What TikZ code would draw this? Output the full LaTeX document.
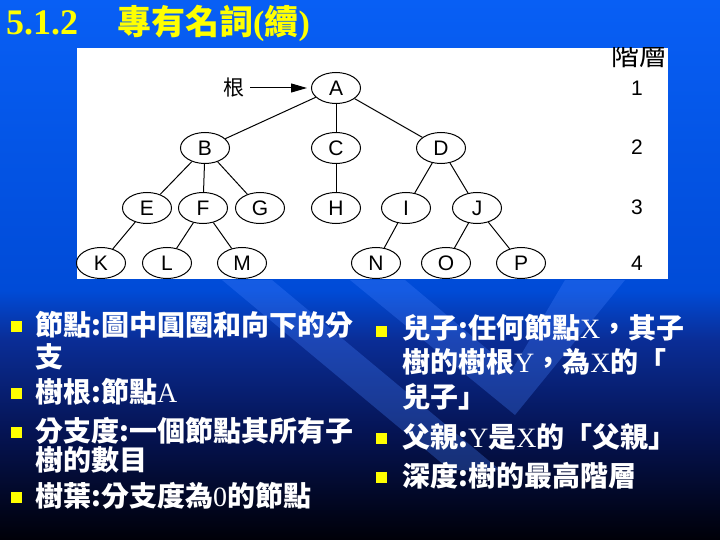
\documentclass[tikz,border=0pt]{standalone}
\usepackage{fontspec}
\setmainfont{Liberation Serif}
\newfontfamily\cjk{Noto Sans CJK TC}
\newfontfamily\arial{Liberation Sans}
\usetikzlibrary{shapes.geometric,arrows.meta}

\definecolor{bgtop}{RGB}{8,95,245}
\definecolor{bgmid}{RGB}{0,75,215}
\definecolor{bgnavy}{RGB}{10,45,150}
\definecolor{bgdeep}{RGB}{5,20,85}
\definecolor{bgbot}{RGB}{0,0,8}
\definecolor{stripeblue}{RGB}{70,130,255}
\definecolor{slideyellow}{RGB}{255,255,0}

\pgfdeclareverticalshading{slidebg}{100bp}{color(0bp)=(bgbot); color(25bp)=(bgbot); color(35.2bp)=(bgdeep); color(43.5bp)=(bgnavy); color(48.1bp)=(bgmid); color(75bp)=(bgtop); color(100bp)=(bgtop)}

\newcommand{\lat}[1]{{\rmfamily\mdseries #1}}

\tikzset{
    treenode/.style={ellipse, draw, line width=1pt, minimum width=49pt, minimum height=31pt, inner sep=0pt, font=\arial\fontsize{21}{21}\selectfont},
    edge/.style={line width=1pt},
    levelnum/.style={font=\arial\fontsize{21}{21}\selectfont},
    bulletbox/.style={fill=slideyellow, minimum size=11pt, inner sep=0pt},
    itemline/.style={anchor=base west, text=white, inner sep=0pt, font=\cjk\bfseries\fontsize{28}{31}\selectfont},
    stripe/.style={fill=stripeblue, opacity=0.3},
}

\begin{document}
\begin{tikzpicture}[x=1pt, y=-1pt]
                \shade[shading=slidebg] (0, 0) rectangle (720, 540);
                \useasboundingbox (0, 0) rectangle (720, 540);

                \fill[stripe] (222, 280) -- (272, 280) -- (500, 470) -- (450, 470) -- cycle;
                \fill[stripe] (350, 280) -- (405, 280) -- (512, 370) -- (565, 280) -- (625, 280) -- (515, 415) -- cycle;

                \node[anchor=base west, inner sep=0pt, text=slideyellow, font=\rmfamily\bfseries\fontsize{36}{36}\selectfont] (secnum) at (6, 35) {5.1.2};
                \node[anchor=base west, inner sep=0pt, text=slideyellow, font=\cjk\bfseries\fontsize{34}{34}\selectfont] (title) at (117, 35) {專有名詞{\rmfamily(}續{\rmfamily)}};

                \fill[white] (77, 48) rectangle (668, 279);
                \begin{scope}
                    \clip (77, 48) rectangle (668, 279);
                    \node[font=\cjk\fontsize{28}{28}\selectfont] (leveltitle) at (639, 55) {階層};
                \end{scope}

                \foreach \n/\y in {1/88, 2/147, 3/207, 4/263} {
                    \node[levelnum] (level\n) at (637, \y) {\n};
                }

                \foreach \name/\x/\y in {A/336/88, B/205/148, C/336/148, D/441/148,
                        E/147/208, F/203/208, G/260/208, H/336/208, I/406/208, J/477/208,
                        K/101/263, L/167/263, M/242/263, N/376/263, O/446/263, P/521/263} {
                    \node[treenode] (\name) at (\x, \y) {\name};
                }

                \foreach \a/\b in {A/B, A/C, A/D, B/E, B/F, B/G, C/H, D/I, D/J, E/K, F/L, F/M, I/N, J/O, J/P} {
                    \draw[edge] (\a) -- (\b);
                }

                \node[font=\cjk\fontsize{21}{21}\selectfont] (rootlabel) at (234, 88) {根};
                \draw[edge, -{Triangle[length=16pt, width=9pt]}, shorten <=2pt, shorten >=4pt] (rootlabel) -- (A);

                \foreach \y in {326, 393, 432, 497} {
                    \node[bulletbox] (bulletl\y) at (16, \y) {};
                }
                \foreach \y in {331, 438, 477} {
                    \node[bulletbox] (bulletr\y) at (381, \y) {};
                }

                \node[itemline] (nodedefa) at (35, 335) {節點:圖中圓圈和向下的分};
                \node[itemline] (nodedefb) at (35, 367) {支};
                \node[itemline] (rootdef) at (35, 402) {樹根:節點\lat{A}};
                \node[itemline] (degreedefa) at (35, 441) {分支度:一個節點其所有子};
                \node[itemline] (degreedefb) at (35, 470) {樹的數目};
                \node[itemline] (leafdef) at (35, 506) {樹葉:分支度為\lat{0}的節點};

                \node[itemline] (childdefa) at (402, 338) {兒子:任何節點\lat{X}，其子};
                \node[itemline] (childdefb) at (402, 372) {樹的樹根\lat{Y}，為\lat{X}的「};
                \node[itemline] (childdefc) at (402, 407) {兒子」};
                \node[itemline] (parentdef) at (402, 447) {父親:\lat{Y}是\lat{X}的「父親」};
                \node[itemline] (depthdef) at (402, 486) {深度:樹的最高階層};
\end{tikzpicture}
\end{document}
